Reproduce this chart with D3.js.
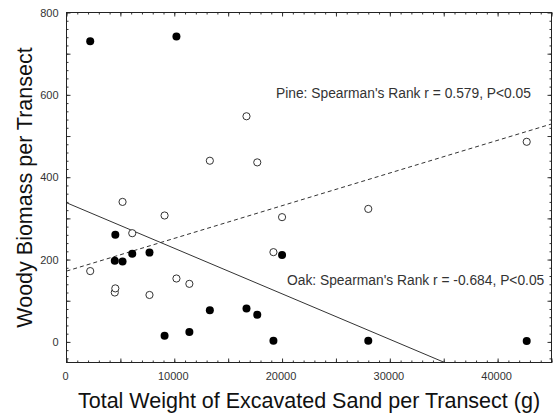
<!DOCTYPE html>
<html>
<head>
<meta charset="utf-8">
<script src="https://cdn.jsdelivr.net/npm/d3@7"></script>
<style>
  body { margin: 0; background: #fff; }
  svg { display: block; font-family: "Liberation Sans", Arial, sans-serif; }
  .tick-label { font-size: 11px; fill: #333; }
  .axis-title { font-size: 21.5px; fill: #111; }
  .note { font-size: 13.8px; fill: #333; }
</style>
</head>
<body>
<div id="chart"></div>
<script>
// sand weight per transect (g), shared by both species
var sandWeight = [2200, 4480, 4530, 5200, 6100, 7700, 9100, 10200, 11400, 13300, 16700, 17700, 19200, 20000, 28000, 42700];
// woody biomass, filled markers
var oakBiomass = [730, 197, 260, 195, 214, 217, 15, 742, 24, 77, 81, 66, 3, 211, 3, 2];
// woody biomass, open markers
var pineBiomass = [172, 120, 130, 340, 264, 114, 307, 154, 141, 440, 548, 436, 218, 303, 323, 486];

// fitted lines: [intercept, slope]
var oakFit = [338, -0.01106];
var pineFit = [172, 0.00794];

var xTicks = [0, 10000, 20000, 30000, 40000];
var yTicks = [0, 200, 400, 600, 800];

var W = 556, H = 417;
var svg = d3.select("#chart").append("svg")
  .attr("width", W)
  .attr("height", H);

var x = d3.scaleLinear().domain([0, 45000]).range([66.5, 551.5]);
var y = d3.scaleLinear().domain([-50, 800]).range([362.5, 12.5]);

var plotLeft = x.range()[0], plotRight = x.range()[1];
var plotTop = y.range()[1], plotBottom = y.range()[0];

// inward tick marks on all four sides
function tickMarks(axisFn, pos, values, len) {
  svg.append("g")
    .attr("transform", pos)
    .call(axisFn.tickValues(values).tickSize(len).tickFormat(""))
    .call(g => g.select(".domain").remove())
    .call(g => g.selectAll("line").attr("stroke", "#333"));
}
var xMinor = d3.range(0, 45001, 1000), xMajor = d3.range(0, 45001, 5000);
var yMinor = d3.range(-40, 800, 20), yMajor = d3.range(0, 801, 100);

tickMarks(d3.axisBottom(x), "translate(0," + plotBottom + ")", xMinor, -2);
tickMarks(d3.axisBottom(x), "translate(0," + plotBottom + ")", xMajor, -4);
tickMarks(d3.axisTop(x), "translate(0," + plotTop + ")", xMinor, -2);
tickMarks(d3.axisTop(x), "translate(0," + plotTop + ")", xMajor, -4);
tickMarks(d3.axisLeft(y), "translate(" + plotLeft + ",0)", yMinor, -2);
tickMarks(d3.axisLeft(y), "translate(" + plotLeft + ",0)", yMajor, -4);
tickMarks(d3.axisRight(y), "translate(" + plotRight + ",0)", yMinor, -2);
tickMarks(d3.axisRight(y), "translate(" + plotRight + ",0)", yMajor, -4);

// frame
svg.append("rect")
  .attr("x", plotLeft)
  .attr("y", plotTop)
  .attr("width", plotRight - plotLeft)
  .attr("height", plotBottom - plotTop)
  .attr("fill", "none")
  .attr("stroke", "#222")
  .attr("stroke-width", 1);

// tick labels
svg.append("g").selectAll("text")
  .data(xTicks)
  .enter().append("text")
    .attr("class", "tick-label")
    .attr("x", d => x(d) - 1)
    .attr("y", plotBottom + 17.5)
    .attr("text-anchor", "middle")
    .text(d => d);

svg.append("g").selectAll("text")
  .data(yTicks)
  .enter().append("text")
    .attr("class", "tick-label")
    .attr("x", plotLeft - 8)
    .attr("y", d => y(d) + 4)
    .attr("text-anchor", "end")
    .text(d => d);

// axis titles
svg.append("text")
  .attr("class", "axis-title")
  .attr("transform", "translate(" + ((plotLeft + plotRight) / 2) + "," + 408 + ")")
  .attr("text-anchor", "middle")
  .text("Total Weight of Excavated Sand per Transect (g)");

svg.append("text")
  .attr("class", "axis-title")
  .attr("transform", "translate(32," + ((plotTop + plotBottom) / 2) + ") rotate(-90)")
  .attr("text-anchor", "middle")
  .text("Woody Biomass per Transect");

// regression lines, clipped to plot area
svg.append("clipPath").attr("id", "plot-clip")
  .append("rect")
    .attr("x", plotLeft).attr("y", plotTop)
    .attr("width", plotRight - plotLeft).attr("height", plotBottom - plotTop);

var line = d3.line().x(d => x(d[0])).y(d => y(d[1]));
function fitPoints(fit) {
  return x.domain().map(v => [v, fit[0] + fit[1] * v]);
}

svg.append("path")
  .datum(fitPoints(oakFit))
  .attr("clip-path", "url(#plot-clip)")
  .attr("d", line)
  .attr("fill", "none")
  .attr("stroke", "#333")
  .attr("stroke-width", 1);

svg.append("path")
  .datum(fitPoints(pineFit))
  .attr("clip-path", "url(#plot-clip)")
  .attr("d", line)
  .attr("fill", "none")
  .attr("stroke", "#333")
  .attr("stroke-width", 1)
  .attr("stroke-dasharray", "4,3");

// markers
svg.append("g").selectAll("circle")
  .data(sandWeight.map((v, i) => [v, pineBiomass[i]]))
  .enter().append("circle")
    .attr("cx", d => x(d[0]))
    .attr("cy", d => y(d[1]))
    .attr("r", 3.6)
    .attr("fill", "#fff")
    .attr("stroke", "#333")
    .attr("stroke-width", 1);

svg.append("g").selectAll("circle")
  .data(sandWeight.map((v, i) => [v, oakBiomass[i]]))
  .enter().append("circle")
    .attr("cx", d => x(d[0]))
    .attr("cy", d => y(d[1]))
    .attr("r", 4)
    .attr("fill", "#000");

// annotations
svg.append("text")
  .attr("class", "note")
  .attr("x", 276)
  .attr("y", 98)
  .text("Pine: Spearman's Rank r = 0.579, P<0.05");

svg.append("text")
  .attr("class", "note")
  .attr("x", 287)
  .attr("y", 285)
  .text("Oak: Spearman's Rank r = -0.684, P<0.05");
</script>
</body>
</html>
